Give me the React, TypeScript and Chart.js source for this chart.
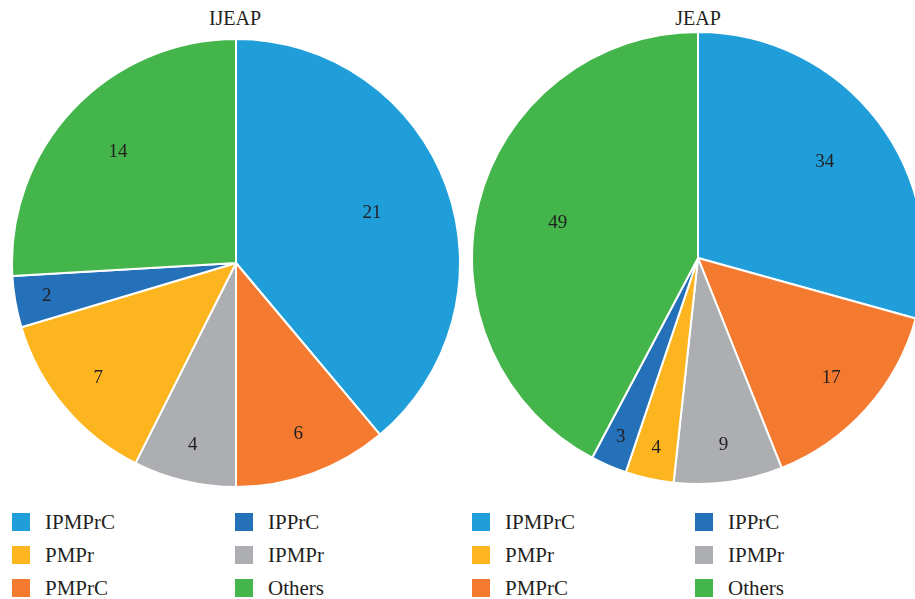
import React, { useEffect, useRef } from "react";
import { Chart, registerables } from "chart.js";
Chart.register(...registerables);

const categories = ["IPMPrC", "PMPrC", "IPMPr", "PMPr", "IPPrC", "Others"];
const sliceColors = ["#1f9ed9", "#f47a30", "#adaeb1", "#fcb51f", "#2470b9", "#43b54b"];
const ijeapValues = [21, 6, 4, 7, 2, 14];
const jeapValues = [34, 17, 9, 4, 3, 49];
const legendOrder = ["IPMPrC", "IPPrC", "PMPr", "IPMPr", "PMPrC", "Others"];
const chartTitles = ["IJEAP", "JEAP"];

const FONT = '"Liberation Serif", "DejaVu Serif", serif';
const TEXT = "#231f20";

const labelPlugin = {
  id: "sliceLabels",
  afterDatasetsDraw(chart: any) {
    const ctx = chart.ctx;
    const meta = chart.getDatasetMeta(0);
    const data = chart.data.datasets[0].data as number[];
    const total = data.reduce((a, b) => a + b, 0);
    ctx.save();
    ctx.font = `19px ${FONT}`;
    ctx.fillStyle = TEXT;
    ctx.textAlign = "center";
    ctx.textBaseline = "middle";
    meta.data.forEach((arc: any, i: number) => {
      const p = arc.getProps(["x", "y", "startAngle", "endAngle", "outerRadius"], true);
      const mid = (p.startAngle + p.endAngle) / 2;
      const share = data[i] / total;
      const f = Math.min(0.9, Math.max(0.64, 0.88 - 0.6 * share));
      ctx.fillText(
        String(data[i]),
        p.x + Math.cos(mid) * p.outerRadius * f,
        p.y + Math.sin(mid) * p.outerRadius * f
      );
    });
    ctx.restore();
  },
};

function Pie({ values, left, top, size }: { values: number[]; left: number; top: number; size: number }) {
  const ref = useRef<HTMLCanvasElement>(null);
  useEffect(() => {
    if (!ref.current) return;
    const chart = new Chart(ref.current, {
      type: "pie",
      data: {
        labels: categories,
        datasets: [
          {
            data: values,
            backgroundColor: sliceColors,
            borderColor: "#ffffff",
            borderWidth: 2,
            hoverOffset: 0,
          },
        ],
      },
      options: {
        responsive: false,
        animation: false,
        layout: { padding: 0 },
        plugins: { legend: { display: false }, tooltip: { enabled: false }, title: { display: false } },
      },
      plugins: [labelPlugin],
    });
    return () => chart.destroy();
  }, [values]);
  return (
    <canvas
      ref={ref}
      width={size}
      height={size}
      style={{ position: "absolute", left, top, width: size, height: size }}
    />
  );
}

function Legend({ left }: { left: number }) {
  return (
    <>
      {legendOrder.map((name, i) => {
        const col = i % 2;
        const row = Math.floor(i / 2);
        const color = sliceColors[categories.indexOf(name)];
        const x = left + col * 223;
        const yc = 522 + row * 33;
        return (
          <div key={name}>
            <div
              style={{ position: "absolute", left: x, top: yc - 9, width: 18, height: 18, background: color }}
            />
            <div
              style={{
                position: "absolute",
                left: x + 33,
                top: yc - 13,
                height: 26,
                lineHeight: "26px",
                fontFamily: FONT,
                fontSize: 21,
                color: TEXT,
                whiteSpace: "nowrap",
              }}
            >
              {name}
            </div>
          </div>
        );
      })}
    </>
  );
}

export default function App() {
  useEffect(() => {
    document.body.style.margin = "0";
  }, []);
  const titleStyle = {
    position: "absolute" as const,
    width: 200,
    top: 6,
    textAlign: "center" as const,
    fontFamily: FONT,
    fontSize: 20,
    lineHeight: "24px",
    color: TEXT,
  };
  return (
    <div
      style={{
        position: "fixed",
        left: 0,
        top: 0,
        width: 915,
        height: 599,
        overflow: "hidden",
        background: "#ffffff",
      }}
    >
      <div style={{ ...titleStyle, left: 135 }}>{chartTitles[0]}</div>
      <div style={{ ...titleStyle, left: 598 }}>{chartTitles[1]}</div>
      <Pie values={ijeapValues} left={11} top={38} size={450} />
      <Pie values={jeapValues} left={471} top={31} size={454} />
      <Legend left={12} />
      <Legend left={472} />
    </div>
  );
}
